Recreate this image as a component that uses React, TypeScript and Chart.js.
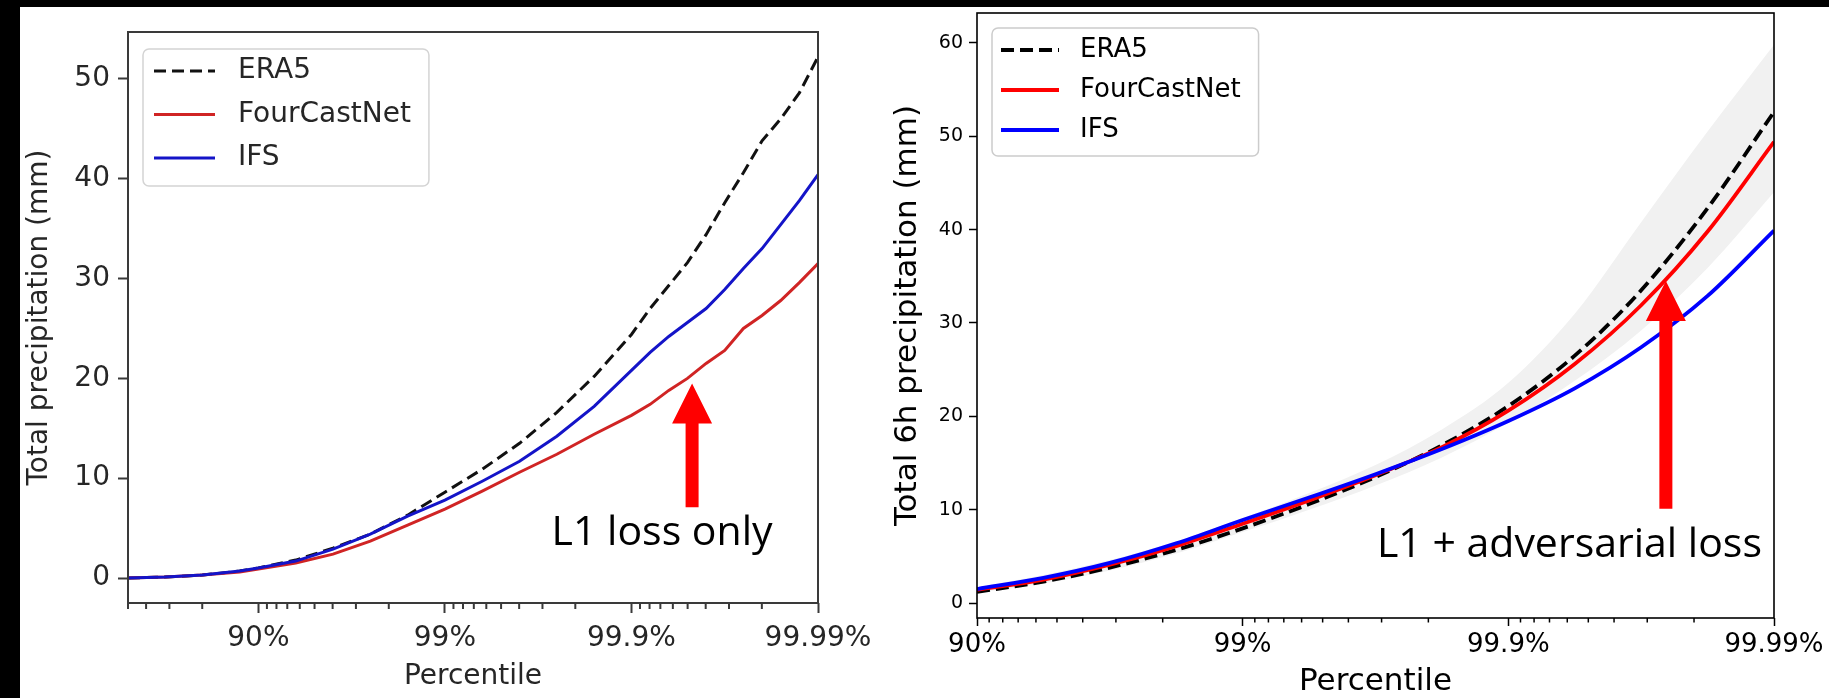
import React, { useEffect, useRef } from "react";
import { Chart, registerables } from "chart.js";

Chart.register(...registerables);

// ---------- shared axis labels ----------
// x positions are decades of exceedance: t = -log10(1 - percentile)
const xTickValues = [1, 2, 3, 4];
const xTickLabels = ["90%", "99%", "99.9%", "99.99%"];
const seriesNames = ["ERA5", "FourCastNet", "IFS"];

// ---------- left panel: L1 loss only ----------
const leftT = [0.301, 0.5, 0.7, 0.9, 1.0, 1.2, 1.4, 1.6, 1.8, 2.0, 2.2, 2.4, 2.6, 2.8, 3.0, 3.1, 3.2, 3.3, 3.4, 3.5, 3.6, 3.7, 3.8, 3.9, 4.0];
const leftEra5 = [0, 0.1, 0.3, 0.7, 1.0, 1.8, 3.0, 4.4, 6.3, 8.6, 10.9, 13.5, 16.6, 20.2, 24.4, 27.0, 29.3, 31.6, 34.4, 37.6, 40.6, 43.8, 46.0, 48.6, 52.2];
const leftFourCastNet = [0, 0.1, 0.3, 0.6, 0.9, 1.5, 2.4, 3.7, 5.3, 6.9, 8.7, 10.6, 12.4, 14.4, 16.3, 17.4, 18.8, 20.0, 21.5, 22.8, 25.0, 26.3, 27.8, 29.6, 31.5];
const leftIfs = [0, 0.1, 0.3, 0.7, 1.0, 1.7, 2.9, 4.4, 6.2, 7.8, 9.7, 11.7, 14.2, 17.2, 20.8, 22.6, 24.2, 25.6, 27.0, 28.9, 31.0, 33.0, 35.4, 37.8, 40.4];
const leftYTicks = [0, 10, 20, 30, 40, 50];
const leftAnnotation = { text: "L1 loss only", textT: 3.164, textY: 3.3, arrowT: 3.325, tipY: 19.5, tailY: 7.1 };

// ---------- right panel: L1 + adversarial loss ----------
const rightT = [1.0, 1.25, 1.5, 1.75, 2.0, 2.25, 2.5, 2.75, 3.0, 3.25, 3.5, 3.75, 4.0];
const rightEra5 = [1.2, 2.3, 3.8, 5.7, 8.0, 10.6, 13.5, 16.9, 21.1, 26.5, 33.5, 42.3, 52.6];
const rightFourCastNet = [1.4, 2.5, 4.1, 6.1, 8.5, 11.0, 13.7, 16.7, 20.6, 25.6, 31.9, 39.8, 49.4];
const rightIfs = [1.5, 2.7, 4.3, 6.4, 8.9, 11.3, 13.8, 16.5, 19.5, 23.0, 27.4, 32.9, 39.9];
const rightBandUpper = [1.7, 3.0, 4.6, 6.6, 9.1, 11.8, 14.8, 18.6, 23.6, 31.0, 40.8, 50.5, 59.8];
const rightBandLower = [1.1, 2.1, 3.5, 5.3, 7.6, 10.0, 12.6, 15.6, 19.3, 23.8, 29.2, 35.9, 44.0];
const rightYTicks = [0, 10, 20, 30, 40, 50, 60];
const rightAnnotation = { text: "L1 + adversarial loss", textT: 3.23, textY: 4.9, arrowT: 3.593, tipY: 34.5, tailY: 10.1 };

type PanelCfg = any;

const leftCfg: PanelCfg = {
  box: { left: 20, top: 7, width: 868, height: 691 },
  padding: { top: 25, right: 70, left: 0, bottom: 0 },
  yWidth: 108,
  xHeight: 95,
  xMin: 0.301,
  xMax: 4,
  yMin: -2.5,
  yMax: 54.7,
  t: leftT,
  series: [leftEra5, leftFourCastNet, leftIfs],
  yTicks: leftYTicks,
  colors: ["#111111", "#d02424", "#1414c8"],
  lineWidth: 3,
  dash: [12, 6],
  smooth: false,
  band: null,
  textColor: "#262626",
  frameColor: "#3a3a3a",
  frameWidth: 2,
  tickFont: 28,
  titleFont: 28,
  yTitle: "Total precipitation (mm)",
  yTitlePad: 6,
  xTitlePad: 7,
  xTickPad: 9,
  yTickPad: 8,
  majorLen: 10,
  minorLen: 6,
  tickWidth: 2,
  legend: { dx: 15, dy: 17, h: 137, row0: 22, rowH: 43.5, line0: 11, lineLen: 61, textX: 95, padR: 18, size: 28, edge: "#d4d4d4" },
  annotation: leftAnnotation,
  annFont: 41,
};

const rightCfg: PanelCfg = {
  box: { left: 870, top: -5, width: 959, height: 703 },
  padding: { top: 18, right: 55, left: 0, bottom: 0 },
  yWidth: 107,
  xHeight: 80,
  xMin: 1,
  xMax: 4,
  yMin: -1.6,
  yMax: 63.2,
  t: rightT,
  series: [rightEra5, rightFourCastNet, rightIfs],
  yTicks: rightYTicks,
  colors: ["#000000", "#ff0000", "#0000ff"],
  lineWidth: 3.8,
  dash: [13, 6],
  smooth: true,
  band: { upper: rightBandUpper, lower: rightBandLower, color: "#f1f1f1" },
  textColor: "#000000",
  frameColor: "#000000",
  frameWidth: 1.6,
  tickFont: 26,
  yTickFont: 19,
  titleFont: 31,
  yTitle: "Total 6h precipitation (mm)",
  yTitlePad: 22,
  xTitlePad: 0.5,
  xTickPad: 4,
  yTickPad: 6,
  majorLen: 8,
  minorLen: 4.5,
  tickWidth: 1.5,
  legend: { dx: 15, dy: 15, h: 128, row0: 22, rowH: 40, line0: 9, lineLen: 58, textX: 88, padR: 18, size: 26, edge: "#cccccc" },
  annotation: rightAnnotation,
  annFont: 41,
};

const FONT = '"DejaVu Sans", sans-serif';
const ANN_FONT = '"Open Sans", "DejaVu Sans", sans-serif';

function decorPlugin(cfg: PanelCfg) {
  return {
    id: "decor",
    afterDatasetsDraw(chart: any) {
      const { ctx, chartArea: a, scales } = chart;
      const xs = scales.x;
      const ys = scales.y;
      ctx.save();
      // frame
      ctx.strokeStyle = cfg.frameColor;
      ctx.lineWidth = cfg.frameWidth;
      ctx.setLineDash([]);
      ctx.strokeRect(a.left, a.top, a.right - a.left, a.bottom - a.top);
      // minor log ticks
      ctx.lineWidth = cfg.tickWidth;
      for (let n = 1; n <= 4; n++) {
        for (let m = 2; m <= 9; m++) {
          const t = n - Math.log10(m);
          if (t < xs.min - 1e-3 || t > xs.max + 1e-3) continue;
          const x = xs.getPixelForValue(t);
          ctx.beginPath();
          ctx.moveTo(x, a.bottom);
          ctx.lineTo(x, a.bottom + cfg.minorLen);
          ctx.stroke();
        }
      }
      // arrow
      const an = cfg.annotation;
      const tipX = xs.getPixelForValue(an.arrowT);
      const tipY = ys.getPixelForValue(an.tipY);
      const tailY = ys.getPixelForValue(an.tailY);
      const hw = 20, sw = 6.5, hl = 40;
      ctx.fillStyle = "#ff0000";
      ctx.beginPath();
      ctx.moveTo(tipX, tipY);
      ctx.lineTo(tipX + hw, tipY + hl);
      ctx.lineTo(tipX + sw, tipY + hl);
      ctx.lineTo(tipX + sw, tailY);
      ctx.lineTo(tipX - sw, tailY);
      ctx.lineTo(tipX - sw, tipY + hl);
      ctx.lineTo(tipX - hw, tipY + hl);
      ctx.closePath();
      ctx.fill();
      // annotation text
      ctx.fillStyle = "#000000";
      ctx.font = `${cfg.annFont}px ${ANN_FONT}`;
      ctx.textAlign = "center";
      ctx.textBaseline = "alphabetic";
      ctx.fillText(an.text, xs.getPixelForValue(an.textT), ys.getPixelForValue(an.textY));
      // legend
      const lg = cfg.legend;
      ctx.font = `${lg.size}px ${FONT}`;
      const maxW = Math.max(...seriesNames.map((s) => ctx.measureText(s).width));
      const bx = a.left + lg.dx;
      const by = a.top + lg.dy;
      const bw = lg.textX + maxW + lg.padR;
      ctx.beginPath();
      (ctx as any).roundRect(bx, by, bw, lg.h, 6);
      ctx.fillStyle = "rgba(255,255,255,0.85)";
      ctx.fill();
      ctx.strokeStyle = lg.edge;
      ctx.lineWidth = 1.5;
      ctx.stroke();
      seriesNames.forEach((name, i) => {
        const cy = by + lg.row0 + i * lg.rowH;
        ctx.strokeStyle = cfg.colors[i];
        ctx.lineWidth = cfg.lineWidth;
        ctx.setLineDash(i === 0 ? cfg.dash : []);
        ctx.beginPath();
        ctx.moveTo(bx + lg.line0, cy);
        ctx.lineTo(bx + lg.line0 + lg.lineLen, cy);
        ctx.stroke();
        ctx.setLineDash([]);
        ctx.fillStyle = cfg.textColor;
        ctx.textAlign = "left";
        ctx.textBaseline = "middle";
        ctx.fillText(name, bx + lg.textX, cy);
      });
      ctx.restore();
    },
  };
}

function buildConfig(cfg: PanelCfg): any {
  const pts = (vals: number[]) => cfg.t.map((t: number, i: number) => ({ x: t, y: vals[i] }));
  const lineCommon = {
    pointRadius: 0,
    borderWidth: cfg.lineWidth,
    fill: false,
    tension: 0,
    cubicInterpolationMode: cfg.smooth ? "monotone" : "default",
  };
  // drawing order: first dataset is painted last (on top)
  const datasets: any[] = [
    { ...lineCommon, label: "IFS", data: pts(cfg.series[2]), borderColor: cfg.colors[2] },
    { ...lineCommon, label: "FourCastNet", data: pts(cfg.series[1]), borderColor: cfg.colors[1] },
    { ...lineCommon, label: "ERA5", data: pts(cfg.series[0]), borderColor: cfg.colors[0], borderDash: cfg.dash },
  ];
  if (cfg.band) {
    datasets.push({
      label: "band-upper",
      data: pts(cfg.band.upper),
      pointRadius: 0,
      borderWidth: 0,
      borderColor: "rgba(0,0,0,0)",
      backgroundColor: cfg.band.color,
      fill: "+1",
      cubicInterpolationMode: "monotone",
    });
    datasets.push({
      label: "band-lower",
      data: pts(cfg.band.lower),
      pointRadius: 0,
      borderWidth: 0,
      borderColor: "rgba(0,0,0,0)",
      fill: false,
      cubicInterpolationMode: "monotone",
    });
  }
  const tickFont = { family: FONT, size: cfg.tickFont };
  const yTickFont = { family: FONT, size: cfg.yTickFont || cfg.tickFont };
  const titleFont = { family: FONT, size: cfg.titleFont, lineHeight: 1.0 };
  return {
    type: "line",
    data: { datasets },
    plugins: [decorPlugin(cfg)],
    options: {
      animation: false,
      responsive: false,
      events: [],
      layout: { padding: cfg.padding },
      plugins: { legend: { display: false }, tooltip: { enabled: false } },
      scales: {
        x: {
          type: "linear",
          min: cfg.xMin,
          max: cfg.xMax,
          afterBuildTicks: (s: any) => {
            s.ticks = xTickValues.map((v) => ({ value: v }));
          },
          afterFit: (s: any) => {
            s.height = cfg.xHeight;
          },
          ticks: {
            autoSkip: false,
            maxRotation: 0,
            minRotation: 0,
            padding: cfg.xTickPad,
            color: cfg.textColor,
            font: tickFont,
            callback: (v: number) => xTickLabels[xTickValues.indexOf(v)],
          },
          grid: {
            drawOnChartArea: false,
            drawTicks: true,
            tickLength: cfg.majorLen,
            tickWidth: cfg.tickWidth,
            tickColor: cfg.frameColor,
          },
          border: { display: false },
          title: {
            display: true,
            text: "Percentile",
            color: cfg.textColor,
            font: titleFont,
            padding: { top: 0, bottom: cfg.xTitlePad },
          },
        },
        y: {
          type: "linear",
          min: cfg.yMin,
          max: cfg.yMax,
          afterBuildTicks: (s: any) => {
            s.ticks = cfg.yTicks.map((v: number) => ({ value: v }));
          },
          afterFit: (s: any) => {
            s.width = cfg.yWidth;
          },
          ticks: {
            autoSkip: false,
            padding: cfg.yTickPad,
            color: cfg.textColor,
            font: yTickFont,
          },
          grid: {
            drawOnChartArea: false,
            drawTicks: true,
            tickLength: cfg.majorLen,
            tickWidth: cfg.tickWidth,
            tickColor: cfg.frameColor,
          },
          border: { display: false },
          title: {
            display: true,
            text: cfg.yTitle,
            color: cfg.textColor,
            font: titleFont,
            padding: { top: cfg.yTitlePad, bottom: 0 },
          },
        },
      },
    },
  };
}

function Panel({ cfg }: { cfg: PanelCfg }) {
  const ref = useRef<HTMLCanvasElement>(null);
  useEffect(() => {
    const chart = new Chart(ref.current as HTMLCanvasElement, buildConfig(cfg));
    return () => chart.destroy();
  }, [cfg]);
  const b = cfg.box;
  return (
    <canvas
      ref={ref}
      width={b.width}
      height={b.height}
      style={{ position: "absolute", left: b.left, top: b.top, width: b.width, height: b.height }}
    />
  );
}

export default function App() {
  return (
    <div
      style={{
        position: "fixed",
        left: 0,
        top: 0,
        width: 1829,
        height: 698,
        background: "#000",
        overflow: "hidden",
      }}
    >
      <div style={{ position: "absolute", left: 20, top: 7, right: 0, bottom: 0, background: "#fff" }} />
      <Panel cfg={leftCfg} />
      <Panel cfg={rightCfg} />
    </div>
  );
}
